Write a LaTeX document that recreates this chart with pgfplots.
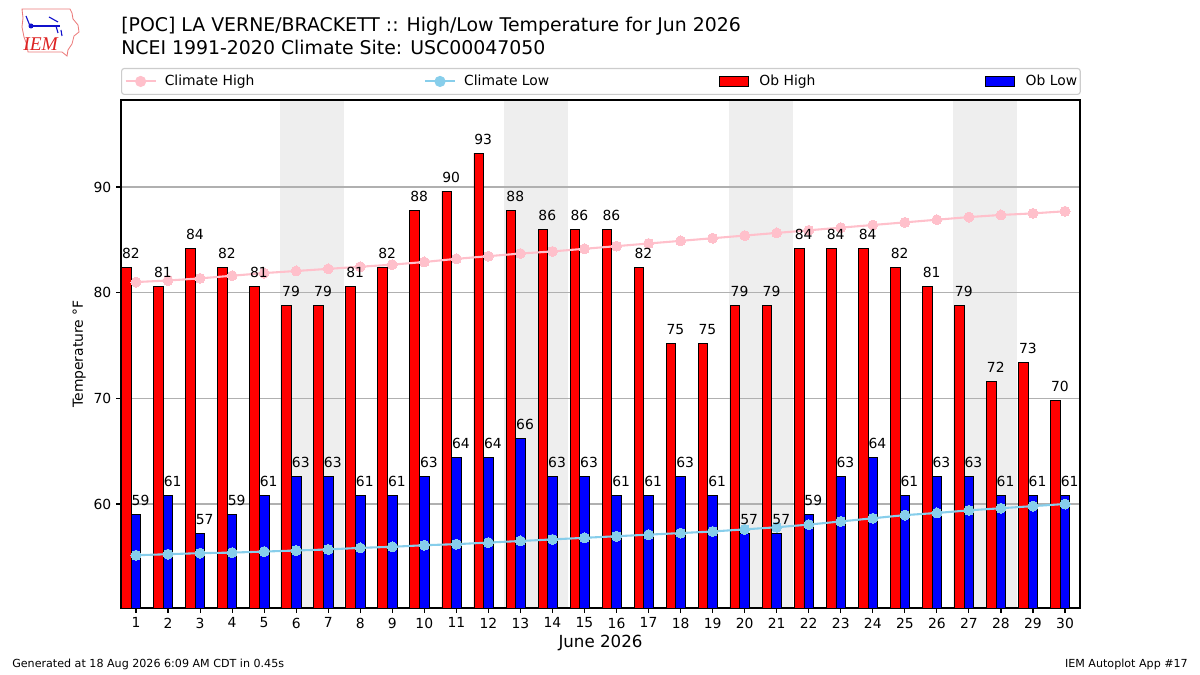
\documentclass[border=0pt]{standalone}
\usepackage{fontspec}
\setmainfont{DejaVu Sans}
\newfontfamily\logofont{Liberation Serif}
\usepackage{pgfplots}
\usepackage{pgfplotstable}
\pgfplotsset{compat=1.18}
\definecolor{chigh}{HTML}{FFC0CB}
\definecolor{clow}{HTML}{87CEEB}
\definecolor{band}{HTML}{EEEEEE}
\definecolor{gridc}{HTML}{B0B0B0}
\definecolor{legedge}{HTML}{CCCCCC}
\definecolor{logored}{HTML}{DD2222}
\definecolor{logoblue}{HTML}{1111CC}

\pgfplotstableread{
day high low chigh clow
1 82.4 59.0 81.0 55.15
2 80.6 60.8 81.15 55.25
3 84.2 57.2 81.35 55.35
4 82.4 59.0 81.6 55.4
5 80.6 60.8 81.85 55.5
6 78.8 62.6 82.05 55.6
7 78.8 62.6 82.25 55.7
8 80.6 60.8 82.45 55.85
9 82.4 60.8 82.65 55.95
10 87.8 62.6 82.9 56.1
11 89.6 64.4 83.2 56.2
12 93.2 64.4 83.45 56.35
13 87.8 66.2 83.7 56.5
14 86.0 62.6 83.9 56.65
15 86.0 62.6 84.15 56.8
16 86.0 60.8 84.4 56.95
17 82.4 60.8 84.65 57.1
18 75.2 62.6 84.9 57.25
19 75.2 60.8 85.15 57.4
20 78.8 57.2 85.4 57.6
21 78.8 57.2 85.65 57.8
22 84.2 59.0 85.9 58.05
23 84.2 62.6 86.15 58.35
24 84.2 64.4 86.4 58.65
25 82.4 60.8 86.65 58.95
26 80.6 62.6 86.9 59.15
27 78.8 62.6 87.15 59.4
28 71.6 60.8 87.35 59.6
29 73.4 60.8 87.5 59.8
30 69.8 60.8 87.7 60.0
}\datatable

\begin{document}
\begin{tikzpicture}
\path (0,0) rectangle (864pt,486pt);
\begin{axis}[
  at={(87.12pt,48.24pt)}, anchor=south west,
  scale only axis, width=690.48pt, height=365.76pt,
  set layers,
  xmin=0.532, xmax=30.468, ymin=50.16, ymax=98.23,
  xtick={1,...,30}, ytick={60,70,80,90},
  tick align=outside, xtick pos=bottom, ytick pos=left,
  major tick length=3.5pt,
  every tick/.style={black, line width=0.8pt},
  axis line style={line width=0.8pt},
  ymajorgrids, major grid style={gridc, line width=0.8pt},
  /pgf/number format/assume math mode=true,
  tick label style={font=\fontsize{10}{12}\selectfont},
  xlabel={June 2026}, ylabel={Temperature °F},
  every axis x label/.style={at={(axis description cs:0.5,-0.0787)}, anchor=base, font=\fontsize{12}{14}\selectfont},
  every axis y label/.style={at={(axis description cs:-0.0437,0.5)}, rotate=90, anchor=center, font=\fontsize{10}{12}\selectfont},
  legend columns=4,
  legend cell align=left,
  legend style={at={(0,1)}, anchor=south west, yshift=3.6pt, draw=legedge, line width=0.8pt, rounded corners=2pt, fill=white,
    inner xsep=2.2pt, inner ysep=4.8pt,
    nodes={inner sep=0pt, font=\fontsize{10}{12}\selectfont},
    /tikz/column 1/.style={column sep=5.8pt},
    /tikz/column 2/.style={column sep=122pt},
    /tikz/column 3/.style={column sep=5.8pt},
    /tikz/column 4/.style={column sep=122pt},
    /tikz/column 5/.style={column sep=7.8pt},
    /tikz/column 6/.style={column sep=122pt},
    /tikz/column 7/.style={column sep=7.8pt}},
  barlabel/.style={draw=none, mark=none, forget plot, on layer=axis foreground,
    nodes near coords={\pgfmathprintnumber[fixed,precision=0]{\pgfplotspointmeta}},
    every node near coord/.append style={anchor=base, yshift=6.5pt, xshift=#1, inner sep=0pt, black, font=\fontsize{10}{12}\selectfont}},
]
\begin{pgfonlayer}{axis background}
\fill[band] (axis cs:5.5,50.16) rectangle (axis cs:7.5,98.23);
\fill[band] (axis cs:12.5,50.16) rectangle (axis cs:14.5,98.23);
\fill[band] (axis cs:19.5,50.16) rectangle (axis cs:21.5,98.23);
\fill[band] (axis cs:26.5,50.16) rectangle (axis cs:28.5,98.23);
\end{pgfonlayer}

\addlegendimage{legend image code/.code={\draw[chigh, line width=1.5pt, rounded corners=0pt] (0pt,0pt) -- (21.6pt,0pt); \fill[chigh] (10.8pt,0pt) circle (3.6pt);}}
\addlegendentry{Climate High}
\addlegendimage{legend image code/.code={\draw[clow, line width=1.5pt, rounded corners=0pt] (0pt,0pt) -- (21.6pt,0pt); \fill[clow] (10.8pt,0pt) circle (3.6pt);}}
\addlegendentry{Climate Low}
\addlegendimage{legend image code/.code={\draw[fill=red, draw=black, line width=0.6pt, rounded corners=0pt] (0pt,-3.6pt) rectangle (20.9pt,3.6pt);}}
\addlegendentry{Ob High}
\addlegendimage{legend image code/.code={\draw[fill=blue, draw=black, line width=0.6pt, rounded corners=0pt] (0pt,-3.6pt) rectangle (20.9pt,3.6pt);}}
\addlegendentry{Ob Low}

\addplot[ybar, bar width=0.3, bar shift=-0.3, fill=red, draw=black, line width=0.6pt, forget plot]
  table[x=day,y=high]{\datatable};
\addplot[ybar, bar width=0.3, bar shift=0, fill=blue, draw=black, line width=0.6pt, forget plot]
  table[x=day,y=low]{\datatable};

\addplot[chigh, line width=1.5pt, mark=*, mark size=3.6pt, mark options={fill=chigh, draw=chigh, line width=0pt}, forget plot]
  table[x=day,y=chigh]{\datatable};
\addplot[clow, line width=1.5pt, mark=*, mark size=3.6pt, mark options={fill=clow, draw=clow, line width=0pt}, forget plot]
  table[x=day,y=clow]{\datatable};

\addplot[barlabel=-3.7pt] table[x=day,y=high]{\datatable};
\addplot[barlabel=3.3pt] table[x=day,y=low]{\datatable};
\end{axis}

% titles
\node[anchor=base west, inner sep=0pt, font=\fontsize{13.6}{16}\selectfont] at (87.12pt,463pt) {[POC] LA VERNE/BRACKETT :: High/Low Temperature for Jun 2026};
\node[anchor=base west, inner sep=0pt, font=\fontsize{13.6}{16}\selectfont] at (87.12pt,447.1pt) {NCEI 1991-2020 Climate Site: USC00047050};

% footer
\node[anchor=base west, inner sep=0pt, font=\fontsize{8}{10}\selectfont] at (8.64pt,5.04pt) {Generated at 18 Aug 2026 6:09 AM CDT in 0.45s};
\node[anchor=base east, inner sep=0pt, font=\fontsize{8}{10}\selectfont] at (855.4pt,5.04pt) {IEM Autoplot App \#17};

% logo
\begin{scope}[shift={(0pt,486pt)}, x=0.72pt, y=-0.72pt]
\draw[logored!60, line width=0.6pt] (22,9) -- (70,9) -- (72,13) -- (73,19) -- (78,25) -- (79,32) -- (74,36) -- (72,44) -- (68,50) -- (67,56) -- (62,52) -- (28,52) -- (27,45) -- (24,37) -- (22,27) -- (23,18) -- cycle;
\draw[logoblue, line width=1pt] (30,26) -- (60,26);
\draw[logoblue, line width=0.8pt] (26,16) -- (30,26) (49,17) -- (58,22) (56,26) -- (58,33) (61,30) -- (62,36);
\fill[logoblue] (31,26) circle (2.5);
\node[anchor=base west, inner sep=0pt, text=logored, font=\logofont\itshape\fontsize{14}{15}\selectfont] at (23,51) {IEM};
\end{scope}
\end{tikzpicture}
\end{document}
